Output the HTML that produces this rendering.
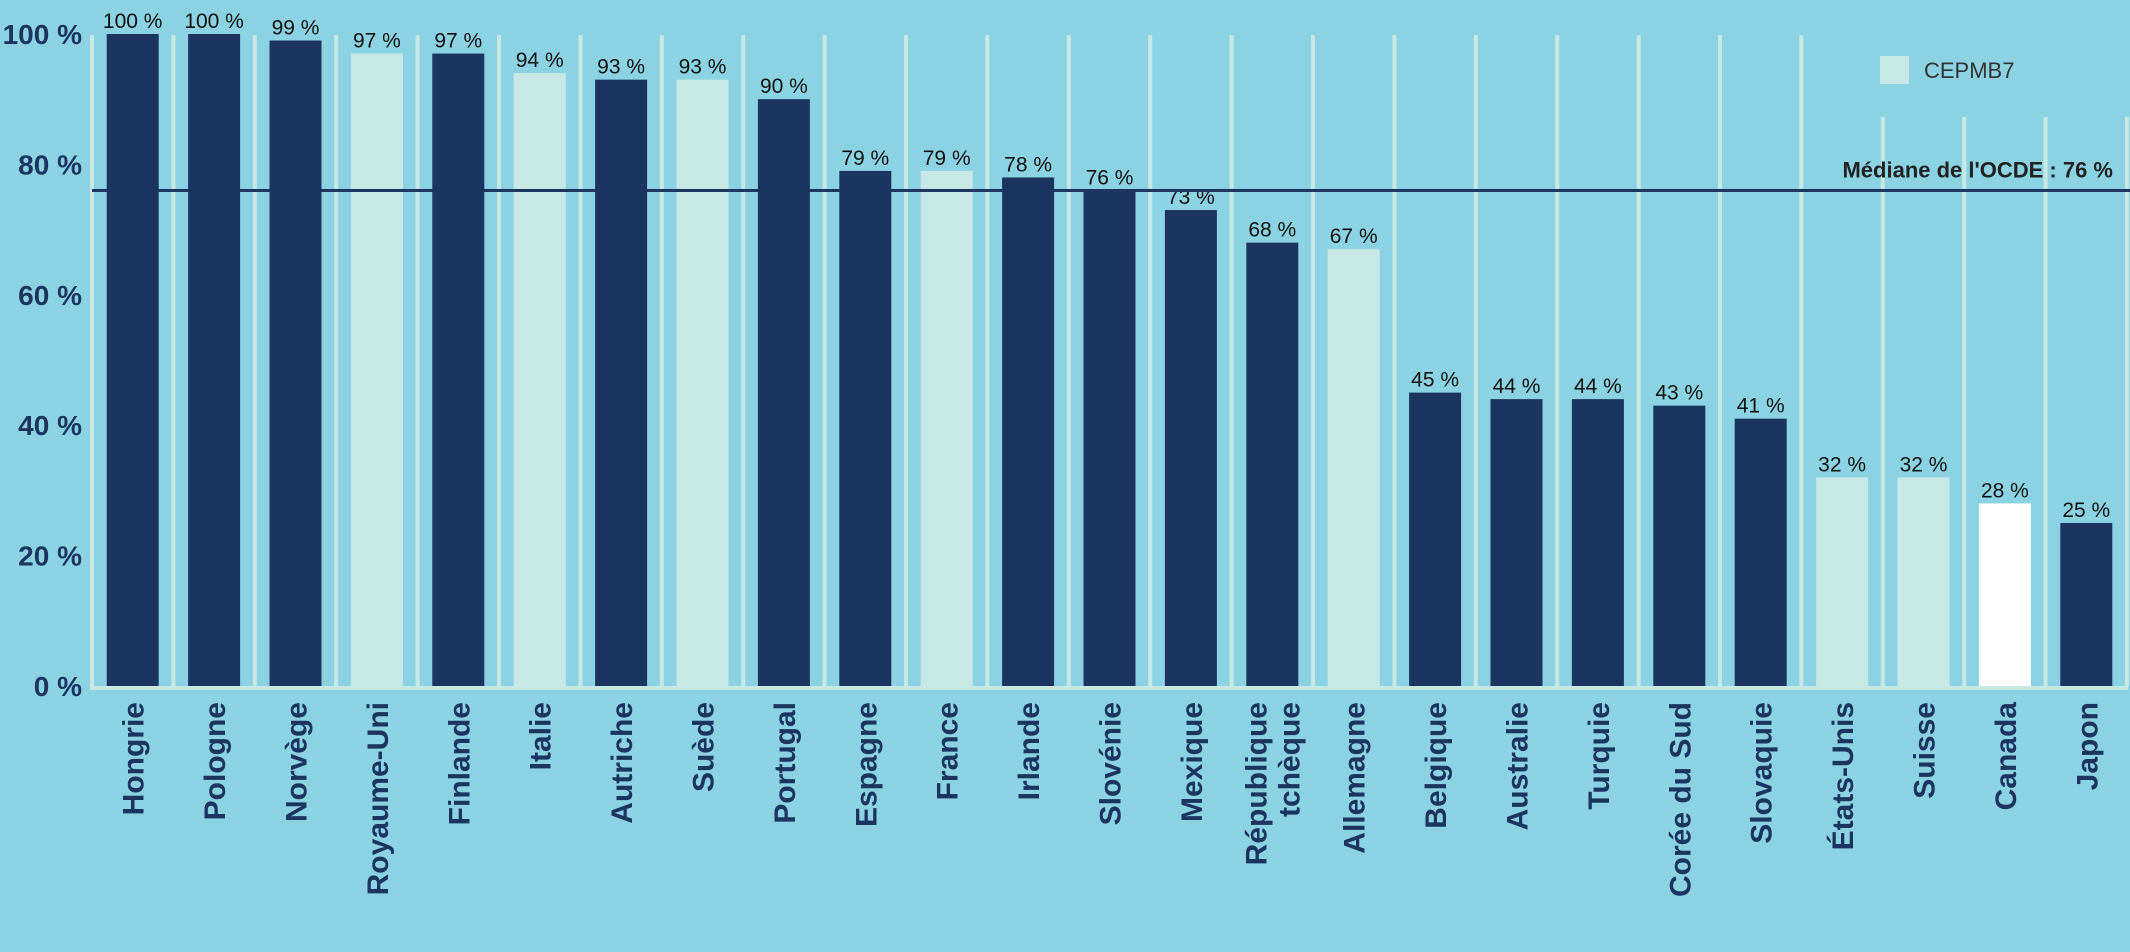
<!DOCTYPE html>
<html><head><meta charset="utf-8"><style>
html,body{margin:0;padding:0;background:#8bd3e3;}
svg{display:block;font-family:"Liberation Sans",sans-serif;}
</style></head><body>
<svg id="chart" width="2130" height="952" viewBox="0 0 2130 952">
<rect x="0" y="0" width="2130" height="952" fill="#8bd3e3"/>
<g id="grid"></g>
<g id="bars"></g>
<g id="yaxis"></g>
<g id="xaxis"></g>
<g>
<rect x="1880" y="56" width="29" height="28" fill="#c8e8e6"/>
<text x="1924" y="78" font-size="22" fill="#333">CEPMB7</text>
</g>
<g id="median"></g>
</svg>
<script>
const categories=["Hongrie","Pologne","Norvège","Royaume-Uni","Finlande","Italie","Autriche","Suède","Portugal","Espagne","France","Irlande","Slovénie","Mexique","République|tchèque","Allemagne","Belgique","Australie","Turquie","Corée du Sud","Slovaquie","États-Unis","Suisse","Canada","Japon"];
const values=[100,100,99,97,97,94,93,93,90,79,79,78,76,73,68,67,45,44,44,43,41,32,32,28,25];
const groups=["o","o","o","c","o","c","o","c","o","o","c","o","o","o","o","c","o","o","o","o","o","c","c","ca","o"];
const yTicks=[0,20,40,60,80,100];
const medianValue=76;
const NS="http://www.w3.org/2000/svg";
const y0=686,yTop=34,x0=92,slot=81.4,bw=52;
const yS=v=>y0-(y0-yTop)*v/100;
const xC=i=>x0+slot*(i+0.5);
function mk(tag,attrs,parent){const e=document.createElementNS(NS,tag);for(const k in attrs)e.setAttribute(k,attrs[k]);parent.appendChild(e);return e;}
const grid=document.getElementById('grid'),bars=document.getElementById('bars'),ya=document.getElementById('yaxis'),xa=document.getElementById('xaxis'),med=document.getElementById('median');
const colors={o:"#1c3560",c:"#c8e8e6",ca:"#ffffff"};
for(let i=0;i<=categories.length;i++){
  const gx=x0+slot*i;
  const top=(i>=22)?117:35;
  const l=mk('rect',{x:gx-2,y:top,width:4,height:y0-top,fill:"#c8e8e6"},grid);
  
  
}
const base=mk('rect',{x:x0-2,y:y0,width:2130-x0,height:4,fill:"#c8e8e6"},grid);


categories.forEach((c,i)=>{
  const cx=xC(i);
  const b=mk('rect',{x:cx-bw/2,y:yS(values[i]),width:bw,height:y0-yS(values[i]),fill:colors[groups[i]]},bars);
  
  
  const t=mk('text',{x:cx,y:yS(values[i])-6,'text-anchor':'middle','font-size':21,fill:"#111"},bars);
  t.textContent=values[i]+' %';
  
  
  const lines=c.split('|');
  const g=mk('text',{transform:`translate(${cx},702) rotate(-90)`,'text-anchor':'end','font-size':30,'font-weight':'bold',fill:"#1c3560"},xa);
  
  
  lines.forEach((ln,k)=>{
    const sp=mk('tspan',{x:0,y:(lines.length===1?11:(k===0?-6:27))},g);
    sp.textContent=ln;
  });
});
yTicks.forEach(v=>{
  const t=mk('text',{x:82,y:yS(v)+10,'text-anchor':'end','font-size':28,'font-weight':'bold',fill:"#1c3560"},ya);
  t.textContent=v+' %';
  
  
});
const ml=mk('rect',{x:x0,y:yS(medianValue)-1.5,width:2130-x0,height:3,fill:"#1c3560"},med);


const mt=mk('text',{x:2113,y:yS(medianValue)-13,'text-anchor':'end','font-size':22,'font-weight':'bold',fill:"#222"},med);
mt.textContent="Médiane de l'OCDE : "+medianValue+" %";


</script>
</body></html>
